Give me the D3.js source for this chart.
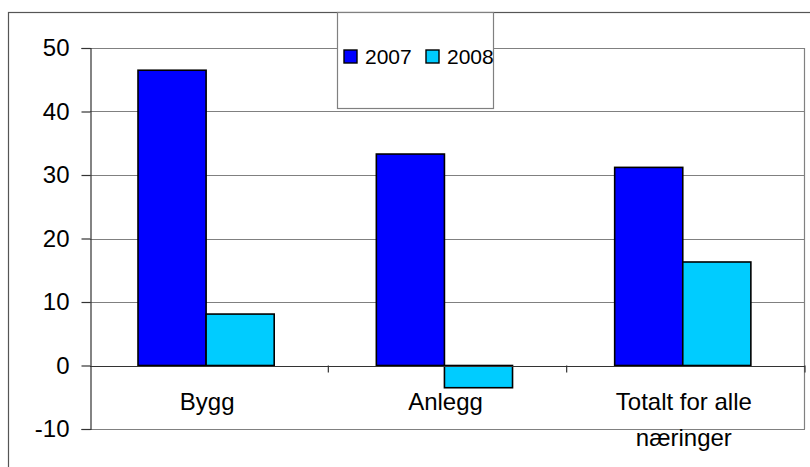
<!DOCTYPE html>
<html>
<head>
<meta charset="utf-8">
<script src="https://cdn.jsdelivr.net/npm/d3@7"></script>
<style>
  body { margin: 0; background: #fff; }
  svg text { font-family: "Liberation Sans", Arial, sans-serif; fill: #000; }
</style>
</head>
<body>
<svg id="chart" width="810" height="467"></svg>
<script>

// data
var categories = ["Bygg", "Anlegg", "Totalt for alle næringer"];
var seriesNames = ["2007", "2008"];
var values2007 = [46.5, 33.3, 31.2];
var values2008 = [8.1, -3.5, 16.3];
var yTicks = [-10, 0, 10, 20, 30, 40, 50];

var colors = ["#0000ff", "#00ccff"];

var svg = d3.select("#chart");

var plot = { left: 90, right: 805, top: 48, bottom: 429 };

// outer chart frame (right and bottom fall outside the window)
svg.append("rect")
    .attr("x", 8.5)
    .attr("y", 12.5)
    .attr("width", 900)
    .attr("height", 600)
    .attr("fill", "none")
    .attr("stroke", "#555")
    .attr("stroke-width", 1.2);

var x0 = d3.scaleBand()
    .domain(categories)
    .range([plot.left, plot.right])
    .padding(0);

var x1 = d3.scaleBand()
    .domain(seriesNames)
    .range([0, x0.bandwidth()])
    .paddingInner(0)
    .paddingOuter(0.75)
    .align(0.47);

var y = d3.scaleLinear()
    .domain([-10, 50])
    .range([plot.bottom, plot.top]);

// gridlines
svg.append("g")
    .selectAll("line")
    .data(yTicks)
    .enter()
    .append("line")
        .attr("x1", plot.left)
        .attr("x2", plot.right)
        .attr("y1", function(d){ return Math.round(y(d)) + 0.5 })
        .attr("y2", function(d){ return Math.round(y(d)) + 0.5 })
        .attr("stroke", "#808080")
        .attr("stroke-width", 1.2);

// plot area right border
svg.append("line")
    .attr("x1", plot.right - 0.5)
    .attr("x2", plot.right - 0.5)
    .attr("y1", y(50))
    .attr("y2", y(-10))
    .attr("stroke", "#808080")
    .attr("stroke-width", 1.2);

// bars
var rows = categories.map(function(c, i){
    return { cat: c, vals: [values2007[i], values2008[i]] };
});

svg.append("g")
    .selectAll("g")
    .data(rows)
    .enter()
    .append("g")
        .attr("transform", function(d){ return "translate(" + x0(d.cat) + ",0)" })
    .selectAll("rect")
    .data(function(d){ return d.vals.map(function(v, j){ return { key: seriesNames[j], value: v, j: j } }) })
    .enter()
    .append("rect")
        .attr("x", function(d){ return x1(d.key) })
        .attr("y", function(d){ return y(Math.max(0, d.value)) })
        .attr("width", x1.bandwidth())
        .attr("height", function(d){ return Math.abs(y(d.value) - y(0)) })
        .attr("fill", function(d){ return colors[d.j] })
        .attr("stroke", "#000")
        .attr("stroke-width", 1.6);

// y axis
var yAxis = svg.append("g")
    .attr("transform", "translate(" + (plot.left + 0.5) + ",0)")
    .call(d3.axisLeft(y)
        .tickValues(yTicks)
        .tickFormat(function(d){ return String(d) })   // plain hyphen for -10
        .tickSize(9)
        .tickPadding(12));
yAxis.select(".domain").attr("stroke", "#333").attr("stroke-width", 1.2);
yAxis.selectAll(".tick line").attr("stroke", "#333").attr("stroke-width", 1.2);
yAxis.selectAll("text")
    .attr("font-size", "24px")
    .attr("font-family", "Liberation Sans, Arial, sans-serif")
    .attr("fill", "#000");

// zero axis with ticks at the category boundaries
svg.append("line")
    .attr("x1", plot.left)
    .attr("x2", plot.right)
    .attr("y1", Math.round(y(0)) + 0.5)
    .attr("y2", Math.round(y(0)) + 0.5)
    .attr("stroke", "#333")
    .attr("stroke-width", 1.2);

svg.append("g")
    .selectAll("line")
    .data(categories.slice(1).concat(["end"]))
    .enter()
    .append("line")
        .attr("x1", function(d, i){ return plot.left + x0.step() * (i + 1) })
        .attr("x2", function(d, i){ return plot.left + x0.step() * (i + 1) })
        .attr("y1", y(0))
        .attr("y2", y(0) + 7)
        .attr("stroke", "#333")
        .attr("stroke-width", 1.2);

// category labels
svg.append("g")
    .selectAll("text")
    .data(categories)
    .enter()
    .append("text")
        .attr("x", function(d){ return x0(d) + x0.bandwidth() / 2 - 2 })
        .attr("y", 410)
        .attr("text-anchor", "middle")
        .attr("font-size", "24px")
        .text(function(d){ return d })
        .call(wrap, 165);

// legend
var legend = svg.append("g");
legend.append("rect")
    .attr("x", 337.5)
    .attr("y", 12.5)
    .attr("width", 156)
    .attr("height", 96)
    .attr("fill", "#fff")
    .attr("stroke", "#808080")
    .attr("stroke-width", 1.2);

var legendX = [344, 426];
var item = legend.selectAll("g.item")
    .data(seriesNames)
    .enter()
    .append("g")
        .attr("class", "item")
        .attr("transform", function(d, i){ return "translate(" + legendX[i] + ",50)" });
item.append("rect")
    .attr("width", 13)
    .attr("height", 13)
    .attr("fill", function(d, i){ return colors[i] })
    .attr("stroke", "#000")
    .attr("stroke-width", 1.4);
item.append("text")
    .attr("x", 21)
    .attr("y", 14)
    .attr("font-size", "21px")
    .text(function(d){ return d });

function wrap(text, width) {
    text.each(function () {
        var text = d3.select(this),
            words = text.text().split(/\s+/).reverse(),
            word,
            line = [],
            lineNumber = 0,
            lineHeight = 36, // px
            x = text.attr("x"),
            y = text.attr("y"),
            tspan = text.text(null)
                        .append("tspan")
                        .attr("x", x)
                        .attr("y", y);
        while (word = words.pop()) {
            line.push(word);
            tspan.text(line.join(" "));
            if (tspan.node().getComputedTextLength() > width) {
                line.pop();
                tspan.text(line.join(" "));
                line = [word];
                tspan = text.append("tspan")
                            .attr("x", x)
                            .attr("y", +y + (++lineNumber) * lineHeight)
                            .text(word);
            }
        }
    });
}
</script>
</body>
</html>
